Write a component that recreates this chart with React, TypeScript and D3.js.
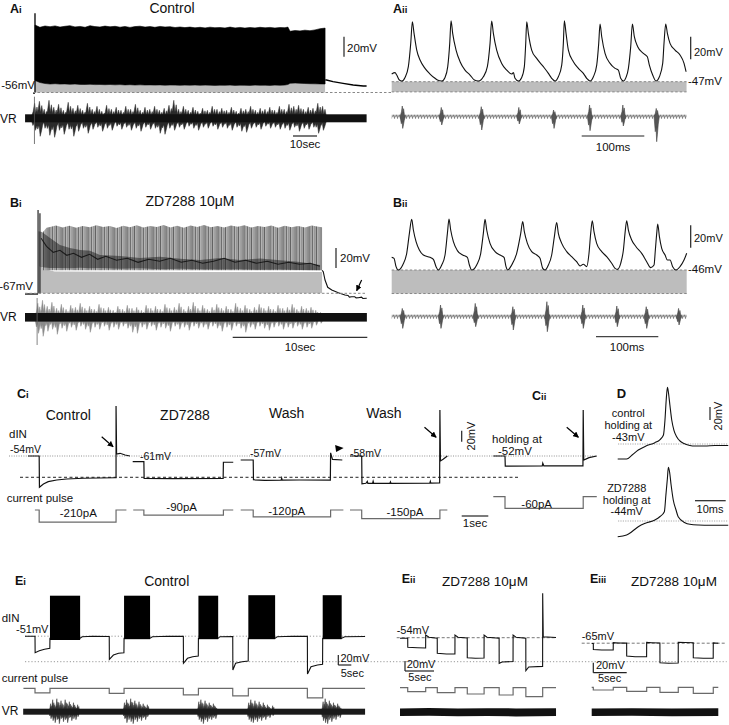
import React from "react";
import * as d3 from "d3";

const FONT = "'Liberation Sans', Arial, Helvetica, sans-serif";
type P = number[];

/* ---------------- Ai : control swim episode (s, mV) ---------------- */
const aiRestMv = -56;
const aiPre: P[] = [[0, -56.5], [0.83, -56.5]];
const aiFirstSpike: P = [0.83, 23.2];
// [time, spike-peak envelope, inter-spike trough]
const aiEpisode: P[] = [
  [0.83, 11.5, -44], [2.9, 9.2, -46], [5, 10.5, -47], [7.1, 9.8, -47.5], [9.2, 10.6, -47.2], [11.25, 9.4, -47.6],
  [13.3, 10.2, -47.4], [15.4, 10.8, -47.8], [17.5, 9.6, -47.5], [19.6, 10.1, -47.9], [21.7, 9.2, -48], [23.75, 10.8, -47.8],
  [25.8, 9.9, -48.1], [27.9, 9.5, -48], [30, 10.4, -48.2], [32.1, 9.7, -48], [34.2, 10.2, -48.3], [36.25, 9.3, -48.1],
  [38.3, 10, -48.4], [40.4, 9.1, -48.2], [42.5, 9.9, -48.5], [44.6, 10.3, -48.3], [46.7, 9.4, -48.5], [48.75, 9.9, -48.4],
  [50.8, 9.2, -48.6], [52.9, 10.1, -48.4], [55, 9.5, -48.7], [57.1, 9.8, -48.5], [59.2, 9.0, -48.6], [61.25, 9.5, -48.8],
  [63.3, 8.9, -48.6], [65.4, 9.4, -48.7], [67.5, 8.7, -48.5], [69.6, 9.2, -48.8], [71.7, 8.6, -48.6], [73.75, 9.3, -48.7],
  [75.8, 8.8, -48.9], [77.9, 9.0, -48.7], [80, 8.5, -48.8], [82.1, 9.4, -48.6], [84.2, 8.6, -48.9], [86.25, 9.1, -48.7],
  [88.3, 8.4, -48.8], [90.4, 9.0, -48.9], [92.5, 8.6, -48.6], [94.6, 9.2, -48.8], [96.7, 8.7, -48.7], [98.75, 9.1, -48.9],
  [100.8, 8.5, -48.6], [102.9, 9.0, -48.8], [105, 8.8, -48.5], [106.2, 9.4, -48], [107.1, 5.2, -46.8], [109.2, 6.0, -46.5],
  [111.25, 5.6, -46.8], [113.3, 6.3, -47], [115.4, 5.8, -47.2], [117.5, 6.6, -47.3], [119.6, 7.8, -47.4], [121.7, 8.4, -47.5],
];
const aiRecovery: P[] = [[121.8, -43.5], [122.3, -43.5], [125, -45.2], [129.2, -46.8], [133.4, -48.5], [137.6, -49.5], [139, -49.5]];
// ventral root: [time, upper envelope, lower envelope]
const aiVr: P[] = [
  [1, 15, -12], [3, 17, -18], [5, 9, -10], [7, 18, -17], [9, 11, -19], [11, 14, -12], [13, 8, -16], [15, 16, -11],
  [17, 10, -18], [19, 13, -13], [21, 8, -10], [23, 15, -15], [25, 9, -11], [27, 12, -9], [29, 7, -13], [31, 13, -10],
  [33, 9, -12], [35, 11, -8], [37, 8, -11], [39, 12, -9], [41, 9, -12], [43, 14, -10], [45, 8, -13], [47, 11, -9],
  [49, 9, -11], [51, 12, -10], [53, 8, -15], [55, 10, -16], [57, 13, -10], [59, 18, -12], [61, 9, -9], [63, 12, -11],
  [65, 8, -8], [67, 11, -10], [69, 7, -12], [71, 10, -9], [73, 8, -10], [75, 12, -8], [77, 9, -11], [79, 10, -9],
  [81, 8, -10], [83, 11, -12], [85, 7, -9], [87, 10, -13], [89, 9, -14], [91, 12, -10], [93, 8, -9], [95, 10, -11],
  [97, 9, -8], [99, 11, -10], [101, 8, -9], [103, 12, -11], [105, 9, -10], [107, 14, -12], [109, 12, -9], [111, 13, -13],
  [113, 9, -10], [115, 11, -11], [117, 10, -9], [119, 15, -15], [121, 12, -12],
];
const aiVrSpan: P = [-3.3, 139];
const aiVrCore = 4;
const aiVrArtifact: P = [0.6, 21.6, -25.7];

/* ---------------- Aii : expanded control firing (ms, mV) ---------------- */
const aiiRestMv = -47;
const aiiTrace: P[] = [
  [0, -40.2], [5.3, -39], [8, -41.1], [12.2, -45.5], [16, -46.4], [21.3, -43.2], [26.6, -33.7], [30.4, -13.1], [33, 6.1],
  [35.7, -4.2], [40, -19], [45.3, -27.8], [53.2, -35.2], [61.2, -40.2], [69.2, -44], [73, -45.5], [79.9, -46.4],
  [85.2, -43.2], [89.5, -33.7], [92.7, -13.1], [94.8, 7], [97.4, -4.2], [102.8, -19], [109.2, -29.3], [117.1, -36.7], [125.1, -41.1], [132.1, -45.5], [138.4, -46.4],
  [146.4, -42.6], [152.8, -33.7], [157.1, -13.1], [159.7, 6.7], [162.4, -4.2], [167.7, -19], [175.7, -30.8], [183.7, -36.7], [191.7, -40.2], [194.4, -39], [197, -44], [202.3, -46.4],
  [207.7, -43.2], [211.9, -33.7], [214.1, -13.1], [215.7, 6.1], [218.3, -4.2], [223.6, -19], [231.6, -26.4], [242.3, -33.7], [250.3, -39.6], [255.6, -44], [260.9, -46.4],
  [266.2, -42.6], [271.6, -32.3], [274.2, -13.1], [275.8, 7], [278.5, -4.2], [282.2, -19], [290.2, -29.3], [298.2, -35.2], [306.2, -39.6], [311.5, -44], [316.8, -46.4],
  [322.2, -42.6], [327.5, -32.3], [330.7, -13.1], [332.8, 4], [335.5, -7.2], [340.8, -21.9], [348.8, -30.8], [356.8, -35.2], [362.1, -36.7], [365.8, -44], [370.1, -46.4],
  [374.3, -43.2], [378.1, -35.2], [381.8, -16], [384.5, 4], [387.6, -7.2], [393, -16], [402, -21.9], [408.4, -24.9], [411.6, -32.3], [416.9, -41.1], [422.2, -46.4],
  [427.6, -42.6], [432.9, -30.8], [435, -13.1], [437.7, 4], [440.4, -4.2], [444.6, -13.1], [452.6, -19], [460.6, -23.4], [467, -30.8], [470.2, -38.2],
];
const aiiSpan: P = [0, 471];
// ventral root bursts: [time, up, down]
const aiiVrBursts: P[] = [
  [17.6, 10.7, -11.7], [79.9, 9.3, -8.3], [143.8, 10, -13.3], [203.8, 9.3, -7.3],
  [259.3, 6.7, -11.7], [316.8, 11.7, -14], [370, 11.7, -9.3], [423.3, 8.3, -25],
];

/* ---------------- Bi : episode in ZD7288 (s, mV) ---------------- */
const biRestMv = -67;
const biPre: P[] = [[0, -67.7], [0.97, -67.7]];
const biOnsetSpikes: P[] = [[0.97, 16.3], [1.11, 13]];
const biSpikeTops: P[] = [
  [1.34, -5.7], [1.6, -1.5], [1.86, -0.7], [2.3, 0.8], [2.8, -1.2], [3.3, 0.5], [3.8, -1.5], [4.3, 0.2], [4.8, -1], [5.3, 1],
  [5.8, -0.8], [6.3, 0.4], [6.8, -1.6], [7.3, 0.6], [7.8, -0.9], [8.3, 1.1], [8.8, -1.2], [9.3, 0.3], [9.8, -0.7], [10.3, 1.2],
  [10.8, -1.1], [11.3, 0.5], [11.8, -1.4], [12.3, 0.9], [12.8, -0.6], [13.3, 1.3], [13.8, -1], [14.3, 0.4], [14.8, -1.3], [15.3, 0.8],
  [15.8, -0.5], [16.3, 1], [16.8, -1.2], [17.3, 0.2], [17.8, -0.8], [18.3, 0.9], [18.8, -1.5], [19.3, 0.6], [19.8, -0.9], [20.3, 0.3],
  [20.8, -1.1], [21.3, 0.7], [21.8, -0.4], [22.07, -1],
];
// dense overlapping inter-spike trajectories: [time, upper, lower]
const biDense: P[] = [
  [1.0, -5, -40], [1.26, -5.7, -41], [1.86, -11.7, -41.7], [2.6, -18.7, -41.7], [3.34, -21.7, -42], [4.09, -23.7, -41.5],
  [4.83, -24.5, -42], [5.57, -28.7, -41.7], [7.06, -29.7, -42.5], [8.54, -31.7, -42], [10.03, -30.5, -43], [11.52, -32.5, -42.5],
  [13, -33.7, -43], [14.49, -31.7, -43.2], [15.97, -33.7, -43], [17.46, -32.2, -43.5], [18.95, -34, -43.2], [20.43, -35.7, -43.7], [21.92, -38.7, -44],
];
// darkest inter-spike path through the dense region
const biMidline: P[] = [
  [1.2, -12], [1.6, -20], [2.1, -26], [2.6, -24], [3.1, -29], [3.6, -27], [4.2, -31], [4.8, -28], [5.4, -33], [6.0, -30],
  [6.8, -34], [7.6, -32], [8.4, -36], [9.2, -33], [10, -35], [10.8, -32], [11.6, -36], [12.4, -34], [13.2, -37], [14, -35],
  [14.8, -32], [15.6, -36], [16.4, -34], [17.2, -37], [18, -35], [18.8, -38], [19.6, -36], [20.4, -38], [21.2, -37], [21.9, -40],
];
const biPlateau: P[] = [[0.97, -40], [1.2, -40.4], [1.5, -43], [2.2, -45.2], [6, -45.5], [12, -45.8], [18, -45.6], [22.07, -45.7]];
const biRecovery: P[] = [
  [22.07, -44], [22.16, -45.4], [22.29, -53.7], [22.49, -61], [22.79, -63.7], [23.28, -66.4], [23.77, -68.7],
  [24.0, -69.2], [24.1, -70.8], [24.27, -70.4], [24.5, -70.5], [24.6, -71.6], [24.76, -71.4], [25.0, -70.8], [25.1, -72.2], [25.39, -72],
];
const biArrow: P = [25.01, -53.7, 24.64, -64.4];
const biVr: P[] = [
  [1.0, 14, -16], [1.35, 17, -19], [1.7, 11, -14], [2.05, 15, -12], [2.4, 9, -17], [2.75, 13, -11], [3.1, 8, -14], [3.45, 12, -10],
  [3.8, 10, -13], [4.15, 14, -9], [4.5, 9, -12], [4.85, 11, -15], [5.2, 8, -10], [5.55, 13, -12], [5.9, 9, -9], [6.25, 10, -13],
  [6.6, 7, -10], [6.95, 11, -12], [7.3, 8, -9], [7.65, 12, -11], [8.0, 9, -15], [8.35, 10, -16], [8.7, 7, -10], [9.05, 12, -12],
  [9.4, 9, -9], [9.75, 11, -13], [10.1, 8, -10], [10.45, 13, -11], [10.8, 9, -14], [11.15, 10, -9], [11.5, 14, -12], [11.85, 8, -10],
  [12.2, 11, -13], [12.55, 15, -9], [12.9, 9, -11], [13.25, 12, -10], [13.6, 8, -12], [13.95, 10, -9], [14.3, 13, -11], [14.65, 9, -14],
  [15.0, 11, -10], [15.35, 8, -13], [15.7, 14, -9], [16.05, 9, -11], [16.4, 12, -15], [16.75, 8, -10], [17.1, 10, -12], [17.45, 13, -9],
  [17.8, 9, -11], [18.15, 11, -13], [18.5, 8, -10], [18.85, 12, -9], [19.2, 9, -12], [19.55, 10, -10], [19.9, 13, -11], [20.25, 8, -9],
  [20.6, 11, -12], [20.95, 9, -10], [21.3, 10, -11], [21.65, 7, -8], [22.0, 5, -6],
];
const biVrSpan: P = [0, 25.4];
const biVrCore = 4.3;
const biVrArtifact: P = [0.9, 19.3, -27.7];

/* ---------------- Bii : expanded firing in ZD7288 (ms, mV) ---------------- */
const biiRestMv = -46;
const biiTrace: P[] = [
  [0, -34.7], [3.7, -35.6], [7, -43], [10.7, -46],
  [17.7, -41.5], [24.1, -31.1], [28.4, -13.3], [32.1, -0.8],
  [34.8, -10.3], [39.1, -20.7], [44.4, -28.1], [50.8, -32.6], [61.5, -34.7], [66.9, -36.5], [71.2, -43], [74.9, -46],
  [80.3, -41.5], [85.6, -32.6], [89.4, -13.3], [92, -0.5],
  [94.7, -10.3], [99, -20.7], [105.4, -28.7], [114, -32.6], [121.5, -34.7], [124.7, -41.5], [128.4, -46],
  [136.4, -41.5], [142.9, -31.1], [147.1, -13.3], [149.8, -0.8],
  [152.5, -10.3], [157.8, -22.2], [165.9, -29.6], [173.9, -32.6], [180.3, -34.7], [183.5, -43], [186.2, -46],
  [192.6, -41.5], [200.6, -31.1], [207.1, -13.3], [210.3, -2.8],
  [212.9, -11.8], [217.8, -22.2], [224.7, -29.6], [232.8, -32.6], [238.1, -35.6], [242.4, -44.5], [246.1, -46],
  [251.5, -41.5], [256.8, -32.6], [261.1, -16.2], [264.8, -3.7],
  [267.5, -13.3], [272.9, -22.2], [280.9, -29.6], [288.9, -34.1], [296.9, -38.6], [302.3, -42.4], [307.6, -40.9], [313, -43],
  [316.7, -31.1], [319.4, -13.3], [322, -2],
  [324.7, -11.8], [329, -22.2], [337.1, -29.6], [345.1, -34.1], [353.1, -40], [358.5, -44.5], [362.2, -45.4],
  [367.6, -40], [371.9, -28.1], [374.5, -13.3], [377.2, -2],
  [379.9, -10.3], [385.2, -19.2], [392.2, -25.2], [401.3, -31.1], [409.3, -38.6], [415.7, -43.9], [421.1, -41.5], [423.2, -28.1], [425.4, -13.3], [427, -4.9],
  [429.7, -16.2], [433.4, -26.7], [438.8, -32.6], [442.5, -37.1], [446.8, -37.1], [451, -43], [456.4, -46],
  [462.8, -43], [469.2, -37.1], [473.5, -31.1],
];
const biiSpan: P = [0, 473.5];
const biiVrBursts: P[] = [
  [17.7, 8.3, -11.7], [79.1, 11.7, -11.7], [134.8, 13.3, -10], [195.2, 10, -13.3], [249.8, 15, -15],
  [307.5, 11.7, -11.7], [362.1, 10.7, -10], [409.3, 10, -11.7], [461.2, 8.3, -8.3],
];

/* ---------------- Ci / Cii : current steps (s, mV, pA) ---------------- */
const ciTitles = ["Control", "ZD7288", "Wash", "Wash"];
const ciRestMv = [-54, -61, -57, -58];
const ciPulsePa = [-210, -90, -120, -150];
const ciControlTrace: P[] = [
  [0, -54], [0.42, -54], [0.43, -110.9], [0.58, -104.9], [0.76, -100.7], [1.08, -97.6], [1.45, -95.8], [2.08, -94.5],
  [3.27, -93.5], [3.31, -93.5], [3.31, 36.9], [3.33, -50.4], [3.46, -49.1], [3.65, -52.2], [3.83, -54],
];
const ciZdTrace: P[] = [[0, -61], [0.42, -61], [0.43, -91.5], [1.5, -91.8], [3.4, -91.5], [3.41, -62], [3.78, -62]];
const ciWashTrace: P[] = [
  [0, -57], [0.47, -57], [0.48, -93], [0.9, -94], [1.52, -93.6], [1.54, -90], [1.56, -93.6], [2.2, -93.4],
  [3.37, -93.5], [3.38, -44], [3.45, -56], [3.82, -57],
];
const ciWash2Trace: P[] = [
  [0, -58], [0.44, -58], [0.45, -108.5], [0.6, -107.5], [0.65, -104], [0.67, -107.6], [0.85, -107.6], [0.87, -104],
  [0.89, -107.6], [1.5, -107.6], [1.52, -105], [1.54, -107.6], [3.0, -107.2], [3.02, -104], [3.04, -107.2], [3.37, -107],
  [3.38, 25.6], [3.4, -67], [3.5, -64], [3.66, -58],
];
// pulse [on, off] and trace span [start, end], s
const ciPulseTimes: P[] = [[0.42, 3.31], [0.42, 3.41], [0.47, 3.38], [0.44, 3.38]];
const ciPulseSpans: P[] = [[0.26, 3.7], [0.02, 3.78], [0, 3.86], [0, 3.66]];
const ciArrows: P[] = [[2.77, -18.9, 3.2, -37.1], [], [], [2.8, -5.8, 3.24, -24]];
const ciWashMarker: P = [3.7, -36.1];
const ciReboundRefMv = -92.7;

const ciiRestMv = -52;
const ciiPulsePa = -60;
const ciiTrace: P[] = [
  [0, -52], [0.44, -52], [0.45, -70.5], [1.84, -70.2], [1.86, -65], [1.9, -70], [3.37, -70], [3.38, 31.6],
  [3.4, -59.3], [3.6, -55], [3.89, -52],
];
const ciiPulseTimes: P = [0.44, 3.38];
const ciiSpan: P = [0, 3.89];
const ciiArrow: P = [2.76, 0.2, 3.2, -18];

/* ---------------- D : rebound spikes (ms, mV) ---------------- */
const dHoldingMv = [-43, -44];
const dControl: P[] = [
  [0, -66.1], [2.9, -66.1], [4.7, -59.9], [6.7, -52.2], [9.2, -46.1], [12.1, -41], [13.8, -36.1], [14.9, -29.2],
  [15.4, -6.1], [15.8, 24.7], [16.2, 44.2], [16.5, 37], [17, 17], [17.6, -6.1], [18.3, -21.5], [19.2, -31.8],
  [20.3, -38.4], [21.4, -41.9], [23.5, -45.3], [25.2, -46.1], [28.4, -46.1], [31.7, -45.3], [36, -45.3],
];
const dZd: P[] = [
  [0, -68.2], [2.9, -65.5], [4.7, -60.2], [6.7, -52.8], [9.2, -47.1], [12.1, -42.5], [13.8, -37.1], [15.2, -29.7],
  [15.7, -4], [16.2, 22.2], [16.5, 38.6], [16.9, 31.4], [17.4, 11.4], [18.1, -11.7], [19, -27.1], [19.7, -37.4],
  [21.9, -46.6], [23.5, -49.1], [26.3, -50.2], [30.1, -50.6], [36, -50.6],
];

/* ---------------- E : repeated steps (s, mV, pA) ---------------- */
const eFloorMv = -102;
const eiRestMv = -51;
const eiTrace: P[] = [
  [0, -51], [3.85, -51], [3.9, -84], [5.5, -80], [7.5, -77.2], [9.55, -75.2], [9.6, -55],
  [21.2, -55], [22, -52], [26, -51], [32.4, -51.5], [32.45, -97.2], [34, -88.6], [36, -85.2], [38.05, -84], [38.1, -55],
  [48.1, -55], [49, -52], [55, -51], [60.9, -51.3], [60.95, -105.2], [62.5, -95.2], [64.5, -92], [66.65, -90.6], [66.7, -55],
  [74.3, -55], [75, -52], [79.9, -51.5], [79.95, -118.6], [81, -105.2], [83.5, -102], [85.85, -100.6], [85.9, -55],
  [96.2, -55], [97, -52], [103, -51], [108.6, -51.3], [108.65, -126.6], [110, -112], [112.5, -108.6], [114.45, -107.2], [114.5, -55],
  [121.8, -55], [123, -52], [130.8, -51.5],
];
// rebound bursts [start, end, peak envelope, trough envelope]
const eiBursts: P[] = [[9.6, 21.2, 30, -58.6], [38.1, 48.1, 30, -57], [66.7, 74.3, 30, -57], [85.9, 96.2, 31, -57], [114.5, 121.8, 31, -57]];
const eiSteps: P[] = [[3.85, 9.6, -90], [32.4, 38.1, -100], [60.9, 66.7, -130], [79.9, 85.9, -150], [108.6, 114.5, -190]];
const eiSpan: P = [-0.6, 130.8];
const eiVr: P[] = [
  [10, 8, -7], [10.8, 12, -9], [11.6, 7, -11], [12.4, 13, -8], [13.2, 9, -12], [14, 11, -7],
  [14.8, 7, -10], [15.6, 12, -8], [16.4, 8, -11], [17.2, 10, -6], [18, 6, -9], [18.8, 9, -7], [19.6, 5, -8], [20.4, 7, -5],
  [38.4, 9, -7], [39.2, 12, -11], [40, 8, -8], [40.8, 13, -10], [41.6, 9, -12], [42.4, 11, -8],
  [43.2, 7, -10], [44, 10, -7], [44.8, 6, -9], [45.6, 8, -6], [46.4, 5, -8], [47.2, 7, -5],
  [67, 10, -8], [67.8, 12, -10], [68.6, 8, -12], [69.4, 11, -8], [70.2, 7, -10], [71, 9, -7], [71.8, 6, -8], [72.6, 8, -6],
  [73.4, 5, -7], [86.2, 9, -8], [87, 12, -10], [87.8, 8, -11], [88.6, 11, -8], [89.4, 7, -10],
  [90.2, 10, -7], [91, 6, -9], [91.8, 9, -6], [92.6, 5, -8], [93.4, 7, -5], [94.2, 4.5, -6], [95.4, 6, -4],
  [114.8, 10, -9], [115.6, 13, -11], [116.4, 8, -12], [117.2, 11, -8], [118, 7, -10], [118.8, 9, -7],
  [119.6, 6, -8], [120.4, 8, -5], [121.2, 5, -6],
];
const eiVrSpan: P = [-0.7, 130.8];
const eiVrCore = 3;

const eiiRestMv = -54;
const eiiTrace: P[] = [
  [0, -55], [1.33, -55], [1.34, -73], [3, -74], [4.42, -74.5], [4.43, -48.6], [5, -53], [6.42, -55], [6.43, -85],
  [8, -86.6], [9.47, -86.6], [9.48, -48.6], [10, -53], [11.59, -54.5], [11.6, -94], [13, -95], [14.49, -94.6],
  [14.5, -48.6], [15, -53], [17.09, -55], [17.1, -105.2], [17.6, -102.6], [19.49, -101.5], [19.5, -48.6], [20, -53],
  [21.69, -55], [21.7, -120], [22.2, -112.6], [24.59, -111.4], [24.6, 34.8], [24.7, -52], [26.9, -53.5],
];
const eiiSteps: P[] = [[1.33, 4.43, -80], [6.43, 9.48, -100], [11.6, 14.5, -126], [17.1, 19.5, -146], [21.7, 24.6, -180]];
const eiiSpan: P = [0, 26.9];
const eiiVr: P[] = [[0, 3.8, -3.8], [5, 4.2, -3.6], [10, 3.6, -4], [15, 4, -3.8], [20, 3.8, -4.2], [26.9, 4, -3.8]];

const eiiiRestMv = -65;
const eiiiTrace: P[] = [
  [0, -65.5], [0.24, -65.5], [0.25, -77.5], [1.5, -78.6], [3.22, -78.4], [3.23, -64], [4, -64.5], [5.23, -64.8],
  [5.24, -90.5], [6.5, -92], [8.22, -92.2], [8.23, -63.5], [9, -64], [10.21, -64.5], [10.22, -104], [11.5, -105.2],
  [12.95, -104.6], [12.96, -63], [14, -63.5], [15.2, -64], [15.21, -94], [16.7, -95.2], [18.19, -95], [18.2, -64.5], [18.95, -65],
];
const eiiiSteps: P[] = [[0.24, 3.23, -54], [5.24, 8.23, -80], [10.22, 12.96, -100], [15.21, 18.2, -120]];
const eiiiSpan: P = [0, 18.95];
const eiiiVr: P[] = [[0, 3.8, -3.8], [6, 4, -3.6], [12, 3.6, -4], [18.95, 3.9, -3.8]];

/* ---------------- helpers ---------------- */
const lineD = (pts: P[], x: any, y: any, curve: any = d3.curveLinear) =>
  d3.line<P>().x((d) => x(d[0])).y((d) => y(d[1])).curve(curve)(pts) || "";
const bandD = (pts: P[], x: any, y: any, hi: number, lo: number) =>
  d3.area<P>().x((d) => x(d[0])).y1((d) => y(d[hi])).y0((d) => y(d[lo]))(pts) || "";
const floorD = (pts: P[], x: any, y: any, idx: number, floor: number) =>
  d3.area<P>().x((d) => x(d[0])).y1((d) => y(d[idx])).y0(y(floor))(pts) || "";
const stepD = (steps: P[], span: P, x: any, y: any) => {
  const pts: P[] = [[span[0], 0]];
  steps.forEach(([on, off, amp]) => pts.push([on, 0], [on, amp], [off, amp], [off, 0]));
  pts.push([span[1], 0]);
  return lineD(pts, x, y);
};
// spiky glyph for one extracellular burst: up / down in px, hw = half width
const spindle = (cx: number, cy: number, up: number, down: number, hw = 3.5) => {
  const k = hw / 3.5;
  return (
    `M${cx - 3.5 * k},${cy} L${cx - 1.7 * k},${cy - up * 0.45} L${cx - 0.6 * k},${cy - up} L${cx + 0.3 * k},${cy - up * 0.35} ` +
    `L${cx + 1.2 * k},${cy - up * 0.75} L${cx + 2.2 * k},${cy - up * 0.2} L${cx + 3.5 * k},${cy} L${cx + 2.1 * k},${cy + down * 0.3} ` +
    `L${cx + 1 * k},${cy + down * 0.7} L${cx},${cy + down} L${cx - 0.9 * k},${cy + down * 0.4} L${cx - 1.9 * k},${cy + down * 0.6} Z`
  );
};

const TXT = "#111";
const Label = ({ x, y, main, sub }: any) => (
  <text x={x} y={y} fontSize={12.5} fontWeight="bold" fill={TXT}>
    {main}
    <tspan fontSize={9.5}>{sub}</tspan>
  </text>
);
const T = ({ x, y, size = 11.5, anchor = "start", children }: any) => (
  <text x={x} y={y} fontSize={size} textAnchor={anchor} fill={TXT}>
    {children}
  </text>
);
const VT = ({ x, y, size = 11, children }: any) => (
  <text transform={`translate(${x},${y}) rotate(-90)`} fontSize={size} textAnchor="middle" fill={TXT}>
    {children}
  </text>
);
const Bar = ({ x1, y1, x2, y2, w = 1.2, c = "#222" }: any) => (
  <line x1={x1} y1={y1} x2={x2} y2={y2} stroke={c} strokeWidth={w} />
);
const Ref = ({ x1, x2, y, dash = "2.5,2", c = "#888", w = 1 }: any) => (
  <line x1={x1} x2={x2} y1={y} y2={y} stroke={c} strokeWidth={w} strokeDasharray={dash} />
);
// dense ventral-root record: solid core plus one spiky glyph per envelope sample
const VrTrace = ({ data, span, core, x, vy, fringe, hw, coreFill = "#111" }: any) => {
  const c = vy(0);
  return (
    <g>
      {data.map((d: P, i: number) => (
        <path key={i} d={spindle(x(d[0]), c, c - vy(d[1]), vy(d[2]) - c, hw)} fill={fringe} stroke={fringe} strokeWidth={0.5} />
      ))}
      <rect x={x(span[0])} width={x(span[1]) - x(span[0])} y={vy(core)} height={vy(-core) - vy(core)} fill={coreFill} />
    </g>
  );
};
const mv = (v: number) => `${v}mV`;
const pa = (v: number) => `${v}pA`;

/* ---------------- panels ---------------- */
function PanelA() {
  const x = d3.scaleLinear().domain([0, 139]).range([33, 366.6]);
  const y = d3.scaleLinear().domain([-56, -36]).range([92.5, 72.5]);
  const vy = d3.scaleLinear().domain([0, 10]).range([118.3, 108.3]);
  const xx = d3.scaleLinear().domain([0, 100]).range([391.7, 454.3]);
  const yy = d3.scaleLinear().domain([-47, -27]).range([81.7, 59.1]);
  const vc = 116.7;
  return (
    <g>
      <Label x={10} y={13} main="A" sub="i" />
      <T x={172} y={12.5} size={14} anchor="middle">Control</T>
      <path d={floorD(aiEpisode, x, y, 2, aiRestMv)} fill="#bdbdbd" />
      <path d={bandD(aiEpisode, x, y, 1, 2)} fill="#000" stroke="#000" strokeWidth={0.6} />
      <Bar x1={x(aiFirstSpike[0])} x2={x(aiFirstSpike[0])} y1={y(aiRestMv)} y2={y(aiFirstSpike[1])} c="#000" w={1.3} />
      <path d={lineD(aiPre, x, y)} fill="none" stroke="#000" strokeWidth={1.3} />
      <path d={lineD(aiRecovery, x, y)} fill="none" stroke="#000" strokeWidth={1.3} />
      <Ref x1={x(0)} x2={xx(0)} y={y(aiRestMv)} />
      <T x={35} y={88.5} anchor="end">{mv(aiRestMv)}</T>
      <Bar x1={344} x2={344} y1={56.7} y2={56.7 - (y(-56) - y(-36))} />
      <T x={347} y={51.5}>20mV</T>
      <VrTrace data={aiVr} span={aiVrSpan} core={aiVrCore} x={x} vy={vy} fringe="#2a2a2a" hw={4.6} />
      <Bar x1={x(aiVrArtifact[0])} x2={x(aiVrArtifact[0])} y1={vy(aiVrArtifact[1])} y2={vy(aiVrArtifact[2])} c="#555" w={0.8} />
      <T x={0} y={122.5} size={12}>VR</T>
      <Bar x1={293} x2={293 + x(10) - x(0)} y1={136} y2={136} />
      <T x={305} y={148} anchor="middle">10sec</T>

      <Label x={393} y={13} main="A" sub="ii" />
      <rect x={xx(aiiSpan[0])} width={xx(aiiSpan[1]) - xx(aiiSpan[0])} y={yy(aiiRestMv)} height={yy(aiRestMv) - yy(aiiRestMv)} fill="#bdbdbd" />
      <Ref x1={xx(aiiSpan[0])} x2={xx(aiiSpan[1])} y={yy(aiiRestMv)} />
      <Ref x1={xx(aiiSpan[0])} x2={xx(aiiSpan[1])} y={yy(aiRestMv)} />
      <path d={lineD(aiiTrace, xx, yy, d3.curveMonotoneX)} fill="none" stroke="#111" strokeWidth={1.1} />
      <Bar x1={690.7} x2={690.7} y1={59.3} y2={59.3 - (yy(-47) - yy(-27))} />
      <T x={694} y={55.5} size={11}>20mV</T>
      <T x={688} y={85} size={11.5}>{mv(aiiRestMv)}</T>
      <rect x={xx(aiiSpan[0])} width={xx(aiiSpan[1]) - xx(aiiSpan[0])} y={vc - 3} height={6} fill="url(#noiseA)" />
      {aiiVrBursts.map((b, i) => (
        <path key={i} d={spindle(xx(b[0]), vc, b[1], -b[2], 2.6)} fill="#555" stroke="#444" strokeWidth={0.6} />
      ))}
      <Bar x1={581.7} x2={581.7 + xx(100) - xx(0)} y1={136} y2={136} />
      <T x={613} y={151} anchor="middle">100ms</T>
    </g>
  );
}

function PanelB() {
  const x = d3.scaleLinear().domain([0, 10]).range([25, 159.6]);
  const y = d3.scaleLinear().domain([-67, -47]).range([293.3, 273.3]);
  const vy = d3.scaleLinear().domain([0, 10]).range([317.3, 307.3]);
  const xx = d3.scaleLinear().domain([0, 100]).range([391.7, 454]);
  const yy = d3.scaleLinear().domain([-46, -26]).range([270, 247.6]);
  const vc = 316.7;
  return (
    <g>
      <Label x={10} y={207} main="B" sub="i" />
      <T x={190} y={206} size={14} anchor="middle">ZD7288 10μM</T>
      <path d={floorD(biPlateau, x, y, 1, biRestMv)} fill="#bdbdbd" />
      <path d={floorD(biSpikeTops, x, y, 1, -44)} fill="url(#spikeStripes)" />
      <path d={bandD(biDense, x, y, 1, 2)} fill="#1a1a1a" opacity={0.5} />
      <path d={lineD(biMidline, x, y)} fill="none" stroke="#111" strokeWidth={1.1} opacity={0.85} />
      {biOnsetSpikes.map((s, i) => (
        <Bar key={i} x1={x(s[0])} x2={x(s[0])} y1={y(biRestMv)} y2={y(s[1])} c="#222" w={1.2} />
      ))}
      <path d={lineD(biPre, x, y)} fill="none" stroke="#000" strokeWidth={1.3} />
      <path d={lineD(biRecovery, x, y)} fill="none" stroke="#111" strokeWidth={1.1} />
      <Ref x1={x(0)} x2={x(25.4)} y={y(biRestMv)} />
      <line x1={x(biArrow[0])} y1={y(biArrow[1])} x2={x(biArrow[2])} y2={y(biArrow[3])} stroke="#000" strokeWidth={1.2} markerEnd="url(#arrow)" />
      <T x={33} y={290} anchor="end">{mv(biRestMv)}</T>
      <Bar x1={336} x2={336} y1={268} y2={268 - (y(-67) - y(-47))} />
      <T x={340} y={262}>20mV</T>
      <VrTrace data={biVr} span={biVrSpan} core={biVrCore} x={x} vy={vy} fringe="#8a8a8a" hw={3.8} />
      <Bar x1={x(biVrArtifact[0])} x2={x(biVrArtifact[0])} y1={vy(biVrArtifact[1])} y2={vy(biVrArtifact[2])} c="#666" w={0.8} />
      <T x={0} y={321} size={12}>VR</T>
      <Bar x1={232.7} x2={232.7 + x(10) - x(0)} y1={337.3} y2={337.3} c="#333" />
      <T x={300} y={351} anchor="middle">10sec</T>

      <Label x={393} y={207} main="B" sub="ii" />
      <rect x={xx(biiSpan[0])} width={xx(biiSpan[1]) - xx(biiSpan[0])} y={yy(biiRestMv)} height={yy(biRestMv) - yy(biiRestMv)} fill="#bdbdbd" />
      <Ref x1={xx(biiSpan[0])} x2={xx(biiSpan[1])} y={yy(biiRestMv)} />
      <Ref x1={xx(biiSpan[0])} x2={xx(biiSpan[1])} y={yy(biRestMv)} />
      <path d={lineD(biiTrace, xx, yy, d3.curveMonotoneX)} fill="none" stroke="#111" strokeWidth={1.1} />
      <Bar x1={690.7} x2={690.7} y1={247.7} y2={247.7 - (yy(-46) - yy(-26))} />
      <T x={694} y={242} size={11}>20mV</T>
      <T x={688} y={273} size={11.5}>{mv(biiRestMv)}</T>
      <rect x={xx(biiSpan[0])} width={xx(biiSpan[1]) - xx(biiSpan[0])} y={vc - 3} height={6} fill="url(#noiseB)" />
      {biiVrBursts.map((b, i) => (
        <path key={i} d={spindle(xx(b[0]), vc, b[1], -b[2], 2.6)} fill="#555" stroke="#444" strokeWidth={0.6} />
      ))}
      <Bar x1={596} x2={596 + xx(100) - xx(0)} y1={336.7} y2={336.7} c="#444" />
      <T x={627} y={351} anchor="middle">100ms</T>
    </g>
  );
}

function PanelC() {
  const segX0 = [28, 132.7, 240.7, 350];
  const segY0 = [456, 461.7, 460, 456];
  const traces = [ciControlTrace, ciZdTrace, ciWashTrace, ciWash2Trace];
  const titleX = [68.3, 185, 286.7, 384];
  const restLabelX = [10, 140, 250, 350];
  const restLabelY = [452.7, 460, 456.7, 457];
  const pulseLabel = [[78.3, 517.3], [181.7, 510.7], [286.7, 515], [405, 516]];
  const ip = d3.scaleLinear().domain([0, -100]).range([510, 515.8]);
  const ctrlY = d3.scaleLinear().domain([-54, -74]).range([456, 467]);
  const ciiX = d3.scaleLinear().domain([0, 1]).range([493.3, 519.9]);
  const ciiY = d3.scaleLinear().domain([ciiRestMv, ciiRestMv - 20]).range([456, 467]);
  const ciiIp = d3.scaleLinear().domain([0, ciiPulsePa]).range([496.7, 508.3]);
  return (
    <g>
      <Label x={17} y={398} main="C" sub="i" />
      <T x={9} y={438}>dIN</T>
      <T x={6.7} y={501.7}>current pulse</T>
      <Ref x1={9} x2={597} y={ctrlY(-54)} dash="1,1.4" c="#777" w={0.8} />
      <Ref x1={20} x2={520} y={ctrlY(ciReboundRefMv)} dash="3,2.5" c="#222" w={1} />
      {traces.map((tr, i) => {
        const x = d3.scaleLinear().domain([0, 1]).range([segX0[i], segX0[i] + 26.6]);
        const y = d3.scaleLinear().domain([ciRestMv[i], ciRestMv[i] - 20]).range([segY0[i], segY0[i] + 11]);
        const arr = ciArrows[i];
        return (
          <g key={i}>
            <T x={titleX[i]} y={i === 0 || i === 1 ? 420 : 418} size={14} anchor="middle">{ciTitles[i]}</T>
            <path d={lineD(tr, x, y)} fill="none" stroke="#111" strokeWidth={1.2} />
            <path d={stepD([[ciPulseTimes[i][0], ciPulseTimes[i][1], ciPulsePa[i]]], ciPulseSpans[i], x, ip)} fill="none" stroke="#6a6a6a" strokeWidth={1.2} />
            <T x={restLabelX[i]} y={restLabelY[i]} size={10.5}>{mv(ciRestMv[i])}</T>
            <T x={pulseLabel[i][0]} y={pulseLabel[i][1]} size={11.5} anchor="middle">{pa(ciPulsePa[i])}</T>
            {arr.length > 0 && (
              <line x1={x(arr[0])} y1={y(arr[1])} x2={x(arr[2])} y2={y(arr[3])} stroke="#000" strokeWidth={1.2} markerEnd="url(#arrow)" />
            )}
            {i === 2 && (
              <path
                d={`M${x(ciWashMarker[0]) - 4},${y(ciWashMarker[1]) - 3.5} L${x(ciWashMarker[0]) + 4.5},${y(ciWashMarker[1]) - 0.5} L${x(ciWashMarker[0]) - 3},${y(ciWashMarker[1]) + 3.5} Z`}
                fill="#000"
              />
            )}
          </g>
        );
      })}
      <Bar x1={461.7} x2={461.7} y1={441.7} y2={441.7 - 11} />
      <VT x={475} y={436}>20mV</VT>
      <Bar x1={461.7} x2={461.7 + 26.6} y1={516} y2={516} />
      <T x={475} y={527} anchor="middle">1sec</T>

      <Label x={532} y={400} main="C" sub="ii" />
      <T x={492} y={443}>holding at</T>
      <T x={498} y={455}>{mv(ciiRestMv)}</T>
      <path d={lineD(ciiTrace, ciiX, ciiY)} fill="none" stroke="#111" strokeWidth={1.2} />
      <path d={stepD([[ciiPulseTimes[0], ciiPulseTimes[1], ciiPulsePa]], ciiSpan, ciiX, ciiIp)} fill="none" stroke="#6a6a6a" strokeWidth={1.2} />
      <T x={536.7} y={508.3} anchor="middle">{pa(ciiPulsePa)}</T>
      <line x1={ciiX(ciiArrow[0])} y1={ciiY(ciiArrow[1])} x2={ciiX(ciiArrow[2])} y2={ciiY(ciiArrow[3])} stroke="#000" strokeWidth={1.2} markerEnd="url(#arrow)" />
    </g>
  );
}

function PanelD() {
  const x = d3.scaleLinear().domain([0, 10]).range([617.7, 648.4]);
  const yC = d3.scaleLinear().domain([dHoldingMv[0], dHoldingMv[0] + 20]).range([444, 431]);
  const yZ = d3.scaleLinear().domain([dHoldingMv[1], dHoldingMv[1] + 20]).range([521, 508]);
  return (
    <g>
      <T x={616.7} y={398.3} size={13}><tspan fontWeight="bold">D</tspan></T>
      <T x={628.3} y={417} size={11} anchor="middle">control</T>
      <T x={628.3} y={429} size={11} anchor="middle">holding at</T>
      <T x={628.3} y={440.5} size={11} anchor="middle">{mv(dHoldingMv[0])}</T>
      <Ref x1={618} x2={728} y={yC(dHoldingMv[0])} dash="1.2,1.2" c="#aaa" />
      <path d={lineD(dControl, x, yC, d3.curveMonotoneX)} fill="none" stroke="#111" strokeWidth={1.1} />
      <Bar x1={710} x2={710} y1={420} y2={420 - (yC(-43) - yC(-23))} />
      <VT x={722} y={416}>20mV</VT>
      <T x={626.7} y={492} size={11} anchor="middle">ZD7288</T>
      <T x={626.7} y={503.5} size={11} anchor="middle">holding at</T>
      <T x={626.7} y={515} size={11} anchor="middle">{mv(dHoldingMv[1])}</T>
      <Ref x1={618} x2={728} y={yZ(dHoldingMv[1])} dash="1.2,1.2" c="#aaa" />
      <path d={lineD(dZd, x, yZ, d3.curveMonotoneX)} fill="none" stroke="#111" strokeWidth={1.1} />
      <Bar x1={695} x2={695 + x(10) - x(0)} y1={500.7} y2={500.7} />
      <T x={710} y={513} size={11} anchor="middle">10ms</T>
    </g>
  );
}

function PanelE() {
  const y = d3.scaleLinear().domain([-51, -31]).range([636.2, 626.2]);
  const xi = d3.scaleLinear().domain([0, 5]).range([25, 38]);
  const xii = d3.scaleLinear().domain([0, 5]).range([400, 429]);
  const xiii = d3.scaleLinear().domain([0, 5]).range([591.7, 625.1]);
  const ipi = d3.scaleLinear().domain([0, -100]).range([688.3, 693.3]);
  const ipii = d3.scaleLinear().domain([0, -100]).range([687.7, 692.7]);
  const ipiii = d3.scaleLinear().domain([0, -100]).range([687.3, 692.3]);
  const vyi = d3.scaleLinear().domain([0, 10]).range([711.7, 701.7]);
  const vyii = d3.scaleLinear().domain([0, 10]).range([712.2, 702.2]);
  const mv20 = y(-51) - y(-31);
  return (
    <g>
      <Ref x1={25} x2={726.7} y={y(eFloorMv)} dash="1.2,2" c="#999" />
      {/* Ei */}
      <Label x={15} y={585} main="E" sub="i" />
      <T x={166.7} y={586} size={14} anchor="middle">Control</T>
      <T x={1.7} y={621.7}>dIN</T>
      <T x={16} y={633} size={11}>{mv(eiRestMv)}</T>
      <Ref x1={25} x2={365} y={y(eiRestMv)} dash="1.2,2" c="#999" />
      <path d={lineD(eiTrace, xi, y)} fill="none" stroke="#111" strokeWidth={1.1} />
      {eiBursts.map((b, i) => (
        <rect key={i} x={xi(b[0])} width={xi(b[1]) - xi(b[0])} y={y(b[2])} height={y(b[3]) - y(b[2])} fill="#000" />
      ))}
      <Bar x1={338.3} x2={338.3} y1={665} y2={665 - mv20} />
      <Bar x1={338.3} x2={338.3 + xi(5) - xi(0)} y1={665} y2={665} />
      <T x={340.5} y={661.7} size={11}>20mV</T>
      <T x={340.7} y={677} size={11}>5sec</T>
      <T x={1.7} y={681.7}>current pulse</T>
      <path d={stepD(eiSteps, eiSpan, xi, ipi)} fill="none" stroke="#6a6a6a" strokeWidth={1.2} />
      <T x={1.7} y={714.5} size={12}>VR</T>
      <VrTrace data={eiVr} span={eiVrSpan} core={eiVrCore} x={xi} vy={vyi} fringe="#333" hw={2.2} coreFill="#1a1a1a" />

      {/* Eii */}
      <Label x={401.7} y={583.3} main="E" sub="ii" />
      <T x={485} y={586} size={13.5} anchor="middle">ZD7288 10μM</T>
      <T x={396.7} y={634} size={11}>{mv(eiiRestMv)}</T>
      <Ref x1={396.7} x2={555} y={y(eiiRestMv)} dash="3,2" c="#777" />
      <path d={lineD(eiiTrace, xii, y)} fill="none" stroke="#111" strokeWidth={1.1} />
      <Bar x1={405} x2={405} y1={671} y2={671 - mv20} />
      <Bar x1={405} x2={405 + xii(5) - xii(0)} y1={671} y2={671} />
      <T x={406.7} y={668.3} size={11}>20mV</T>
      <T x={408.3} y={680.7} size={11}>5sec</T>
      <path d={stepD(eiiSteps, eiiSpan, xii, ipii)} fill="none" stroke="#6a6a6a" strokeWidth={1.2} />
      <path d={bandD(eiiVr, xii, vyii, 1, 2)} fill="#111" />

      {/* Eiii */}
      <Label x={590} y={583.3} main="E" sub="iii" />
      <T x={674} y={586} size={13.5} anchor="middle">ZD7288 10μM</T>
      <T x={581.7} y={640} size={11}>{mv(eiiiRestMv)}</T>
      <Ref x1={581.7} x2={725} y={y(eiiiRestMv)} dash="3,2" c="#777" />
      <path d={lineD(eiiiTrace, xiii, y)} fill="none" stroke="#111" strokeWidth={1.1} />
      <Bar x1={593.3} x2={593.3} y1={672.7} y2={672.7 - mv20} />
      <Bar x1={593.3} x2={593.3 + xiii(5) - xiii(0)} y1={672.7} y2={672.7} />
      <T x={596} y={669} size={11}>20mV</T>
      <T x={598} y={681.7} size={11}>5sec</T>
      <path d={stepD(eiiiSteps, eiiiSpan, xiii, ipiii)} fill="none" stroke="#6a6a6a" strokeWidth={1.2} />
      <path d={bandD(eiiiVr, xiii, vyii, 1, 2)} fill="#111" />
    </g>
  );
}

export default function App() {
  const W = 729;
  const H = 725;
  return (
    <svg
      width={W}
      height={H}
      viewBox={`0 0 ${W} ${H}`}
      style={{ position: "absolute", left: 0, top: 0, display: "block" }}
      fontFamily={FONT}
    >
      <defs>
        <pattern id="noiseA" x={0} y={113.7} width={3} height={6} patternUnits="userSpaceOnUse">
          <polyline points="0,3 0.75,1 1.5,4.8 2.25,1.6 3,3" fill="none" stroke="#555" strokeWidth={0.7} />
        </pattern>
        <pattern id="noiseB" x={0} y={313.7} width={3} height={6} patternUnits="userSpaceOnUse">
          <polyline points="0,3 0.75,1 1.5,4.8 2.25,1.6 3,3" fill="none" stroke="#555" strokeWidth={0.7} />
        </pattern>
        <pattern id="spikeStripes" width={13} height={10} patternUnits="userSpaceOnUse">
          <rect width={13} height={10} fill="#b4b4b4" />
          <rect x={0} width={1} height={10} fill="#6e6e6e" />
          <rect x={2.1} width={0.8} height={10} fill="#909090" />
          <rect x={3.8} width={1.1} height={10} fill="#5a5a5a" />
          <rect x={5.9} width={0.8} height={10} fill="#9a9a9a" />
          <rect x={7.6} width={1} height={10} fill="#7a7a7a" />
          <rect x={9.6} width={0.9} height={10} fill="#4e4e4e" />
          <rect x={11.5} width={0.8} height={10} fill="#888" />
        </pattern>
        <marker id="arrow" viewBox="0 0 10 10" refX={9} refY={5} markerWidth={5} markerHeight={5} orient="auto">
          <path d="M0,0 L10,5 L0,10 z" fill="#000" />
        </marker>
      </defs>
      <rect width={W} height={H} fill="#fff" />
      <PanelA />
      <PanelB />
      <PanelC />
      <PanelD />
      <PanelE />
    </svg>
  );
}
